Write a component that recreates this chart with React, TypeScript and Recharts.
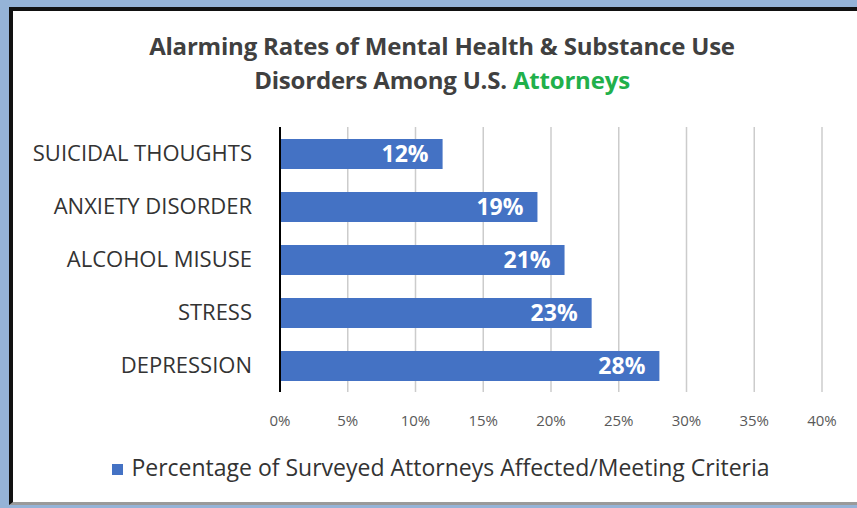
import { Bar, BarChart, CartesianGrid, LabelList, Legend, XAxis, YAxis } from "recharts";

const categories = ["SUICIDAL THOUGHTS", "ANXIETY DISORDER", "ALCOHOL MISUSE", "STRESS", "DEPRESSION"];
const percentages = [12, 19, 21, 23, 28];
const xTicks = [0, 5, 10, 15, 20, 25, 30, 35, 40];
const seriesName = "Percentage of Surveyed Attorneys Affected/Meeting Criteria";

const rows = categories.map((name, i) => ({ name, value: percentages[i] }));

const FONT = "'Open Sans', Lato, sans-serif";

function App() {
  return (
    <div style={{ position: "absolute", left: 0, top: 0, width: 857, height: 508, background: "#95b3d7", overflow: "hidden", fontFamily: FONT }}>
      <div
        style={{
          position: "absolute",
          left: 9,
          top: 7,
          width: 870,
          height: 491,
          background: "#ffffff",
          borderLeft: "4px solid #111",
          borderTop: "4px solid #111",
          borderBottom: "3px solid #9a9a9a",
        }}
      />
      <div
        style={{
          position: "absolute",
          left: 0,
          top: 29,
          width: 884,
          textAlign: "center",
          fontSize: 24,
          fontWeight: 700,
          color: "#404040",
          lineHeight: "34px",
          letterSpacing: -0.2,
        }}
      >
        <div>Alarming Rates of Mental Health &amp; Substance Use</div>
        <div>
          Disorders Among U.S. <span style={{ color: "#21b04b" }}>Attorneys</span>
        </div>
      </div>
      <div style={{ position: "absolute", left: 0, top: 0 }}>
        <BarChart
          width={857}
          height={508}
          data={rows}
          layout="vertical"
          margin={{ top: 127, right: 35, bottom: 86, left: 10 }}
          barSize={30}
        >
          <CartesianGrid horizontal={false} vertical stroke="#cccccc" strokeWidth={1.5} />
          <XAxis
            type="number"
            domain={[0, 40]}
            ticks={xTicks}
            tickFormatter={(v: number) => `${v}%`}
            axisLine={false}
            tickLine={false}
            tickSize={0}
            tickMargin={23}
            height={30}
            tick={{ fill: "#595959", fontSize: 15, fontFamily: FONT }}
          />
          <YAxis
            type="category"
            dataKey="name"
            width={270}
            axisLine={{ stroke: "#000", strokeWidth: 2 }}
            tickLine={false}
            tickSize={0}
            tickMargin={28}
            tick={{ fill: "#333333", fontSize: 22, fontFamily: FONT }}
          />
          <Legend
            layout="horizontal"
            verticalAlign="middle"
            align="center"
            iconType="square"
            iconSize={11}
            wrapperStyle={{ top: 451, left: 0, width: 892, fontSize: 23, fontFamily: FONT }}
            formatter={(v: string) => <span style={{ color: "#333333", marginLeft: 4 }}>{v}</span>}
          />
          <Bar dataKey="value" name={seriesName} fill="#4472c4" isAnimationActive={false}>
            <LabelList
              dataKey="value"
              position="insideRight"
              offset={14}
              formatter={(v: number) => `${v}%`}
              fill="#ffffff"
              fontSize={23}
              fontWeight={700}
              fontFamily={FONT}
            />
          </Bar>
        </BarChart>
      </div>
    </div>
  );
}

export default App;
